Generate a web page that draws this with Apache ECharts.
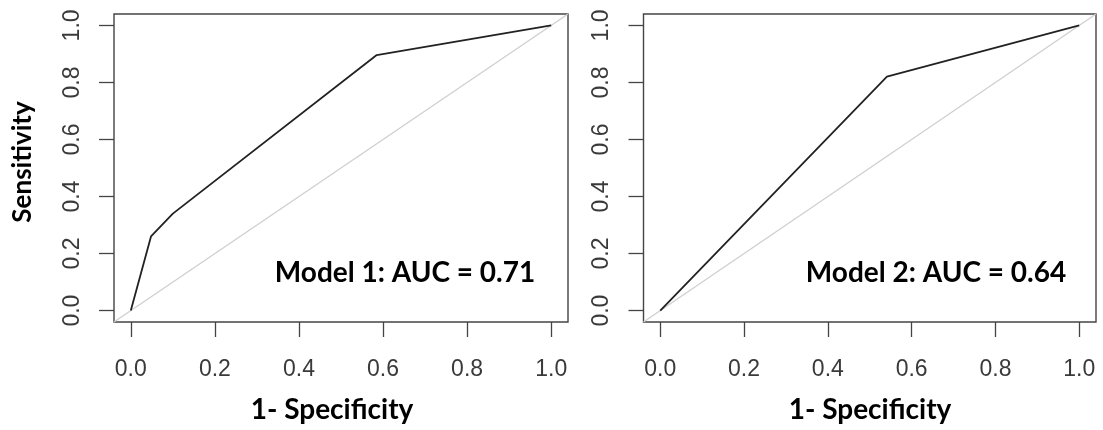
<!DOCTYPE html>
<html>
<head>
<meta charset="utf-8">
<script src="https://cdn.jsdelivr.net/npm/echarts@6.0.0/dist/echarts.min.js"></script>
<style>
html,body{margin:0;padding:0;background:#fff;}
#chart{width:1103px;height:430px;}
</style>
</head>
<body>
<div id="chart"></div>
<script>
// ---- data ----
const tickValues = [0, 0.2, 0.4, 0.6, 0.8, 1.0];
const axisRange = [-0.04, 1.04];
const model1Roc = [[0, 0], [0.048, 0.26], [0.1, 0.34], [0.585, 0.896], [1, 1]];
const model2Roc = [[0, 0], [0.541, 0.82], [1, 1]];
const chanceLine = [[-0.04, -0.04], [1.04, 1.04]];
const panelLabels = ['Model 1: AUC = 0.71', 'Model 2: AUC = 0.64'];
const xTitle = '1- Specificity';
const yTitle = 'Sensitivity';

const chart = echarts.init(document.getElementById('chart'), null, {renderer: 'canvas'});

const grids = [
  {left: 114, top: 14, width: 454, height: 308},
  {left: 643.5, top: 14, width: 452.5, height: 308}
];

const tickFont = {fontFamily: 'Liberation Sans', fontSize: 23, color: '#3a3a3a'};
const boldFont = 'Lato';

function xAxis(i) {
  return {
    type: 'value', gridIndex: i, min: axisRange[0], max: axisRange[1],
    axisLine: {show: false, onZero: false},
    splitLine: {show: false},
    axisTick: {show: true, length: 15, customValues: tickValues, lineStyle: {color: '#444', width: 1.3}},
    axisLabel: Object.assign({customValues: tickValues, margin: 36, formatter: v => v.toFixed(1)}, tickFont)
  };
}
function yAxis(i) {
  return {
    type: 'value', gridIndex: i, min: axisRange[0], max: axisRange[1],
    axisLine: {show: false, onZero: false},
    splitLine: {show: false},
    axisTick: {show: true, length: 15, customValues: tickValues, lineStyle: {color: '#444', width: 1.3}},
    axisLabel: Object.assign({customValues: tickValues, margin: 30, rotate: 90, formatter: v => v.toFixed(1)}, tickFont)
  };
}

const option = {
  animation: false,
  backgroundColor: '#fff',
  grid: grids.map(g => Object.assign({show: true, borderColor: '#444', borderWidth: 1.4, backgroundColor: 'transparent'}, g)),
  xAxis: [xAxis(0), xAxis(1)],
  yAxis: [yAxis(0), yAxis(1)],
  series: [
    {type: 'line', xAxisIndex: 0, yAxisIndex: 0, data: chanceLine, showSymbol: false, lineStyle: {color: '#cfcfcf', width: 1.3}, z: 1},
    {type: 'line', xAxisIndex: 0, yAxisIndex: 0, data: model1Roc, showSymbol: false, lineStyle: {color: '#222', width: 1.8}, z: 2},
    {type: 'line', xAxisIndex: 1, yAxisIndex: 1, data: chanceLine, showSymbol: false, lineStyle: {color: '#cfcfcf', width: 1.3}, z: 1},
    {type: 'line', xAxisIndex: 1, yAxisIndex: 1, data: model2Roc, showSymbol: false, lineStyle: {color: '#222', width: 1.8}, z: 2}
  ],
  graphic: [
    {type: 'text', x: 23, y: 162, rotation: Math.PI / 2, style: {text: yTitle, font: 'bold 26px ' + boldFont, fill: '#000', textAlign: 'center', textVerticalAlign: 'middle'}},
    {type: 'text', x: 332, y: 410, style: {text: xTitle, font: 'bold 28px ' + boldFont, fill: '#000', textAlign: 'center', textVerticalAlign: 'middle'}},
    {type: 'text', x: 870, y: 410, style: {text: xTitle, font: 'bold 28px ' + boldFont, fill: '#000', textAlign: 'center', textVerticalAlign: 'middle'}},
    {type: 'text', x: 405, y: 273, style: {text: panelLabels[0], font: 'bold 28px ' + boldFont, fill: '#000', textAlign: 'center', textVerticalAlign: 'middle'}},
    {type: 'text', x: 936, y: 273, style: {text: panelLabels[1], font: 'bold 28px ' + boldFont, fill: '#000', textAlign: 'center', textVerticalAlign: 'middle'}}
  ]
};
chart.setOption(option);
</script>
</body>
</html>
